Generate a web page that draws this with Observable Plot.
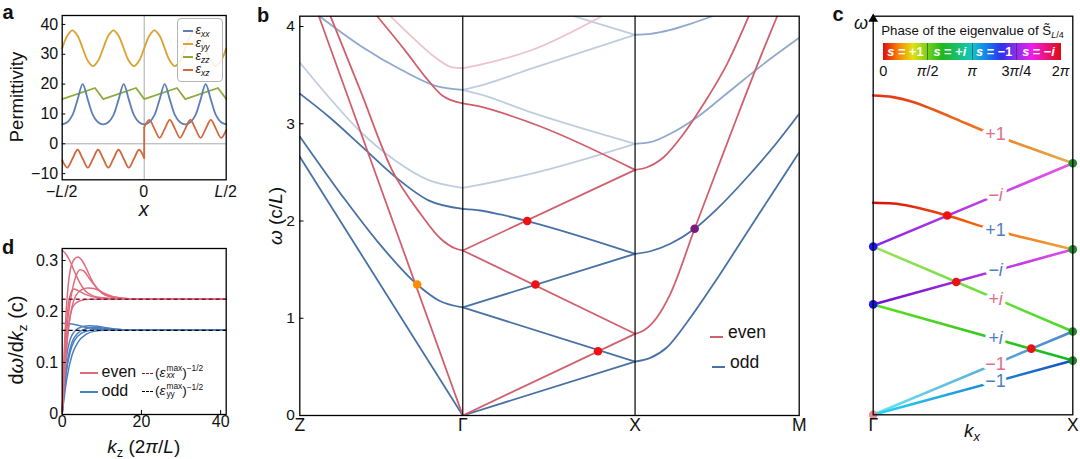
<!DOCTYPE html>
<html>
<head>
<meta charset="utf-8">
<script src="https://cdn.jsdelivr.net/npm/d3@7"></script>
<script src="https://cdn.jsdelivr.net/npm/@observablehq/plot@0.6"></script>
<style>
html,body{margin:0;padding:0;background:#fff;}
#wrap{position:relative;width:1080px;height:459px;overflow:hidden;background:#fff;font-family:"Liberation Sans",Arial,Helvetica,sans-serif;color:#111;}
.t{position:absolute;white-space:nowrap;line-height:1;}
.t sub{font-size:68%;vertical-align:baseline;position:relative;top:0.32em;line-height:0;}
.t sup{font-size:62%;vertical-align:baseline;position:relative;top:-0.6em;line-height:0;}
.ss{display:inline-flex;flex-direction:column;font-size:62%;line-height:0.95;vertical-align:middle;margin-left:1px;}
</style>
</head>
<body>
<div id="wrap"></div>
<script>
const FONT = '"Liberation Sans", Arial, Helvetica, sans-serif';

// ---------------- Panel a data ----------------
const aX = [-0.5,-0.46875,-0.4375,-0.40625,-0.375,-0.34375,-0.3125,-0.28125,-0.25,-0.21875,-0.1875,-0.15625,-0.125,-0.09375,-0.0625,-0.03125,0,0.03125,0.0625,0.09375,0.125,0.15625,0.1875,0.21875,0.25,0.28125,0.3125,0.34375,0.375,0.40625,0.4375,0.46875,0.5];
const epsXX = [6.5,7.2,9.6,14.8,20,14.8,9.6,7.2, 6.5,7.2,9.6,14.8,20,14.8,9.6,7.2, 6.5,7.2,9.6,14.8,20,14.8,9.6,7.2, 6.5,7.2,9.6,14.8,20,14.8,9.6,7.2, 6.5];
const epsYY = [32,36.2,38,36.2,32,27.8,26,27.8, 32,36.2,38,36.2,32,27.8,26,27.8, 32,36.2,38,36.2,32,27.8,26,27.8, 32,36.2,38,36.2,32,27.8,26,27.8, 32];
const zzX = [-0.5,-0.3,-0.25,-0.05,0,0.2,0.25,0.45,0.5];
const epsZZ = [15,18.7,15,18.7,15,18.7,15,18.7,15];
const xzNegX = [-0.5,-0.46875,-0.4375,-0.40625,-0.375,-0.34375,-0.3125,-0.28125,-0.25,-0.21875,-0.1875,-0.15625,-0.125,-0.09375,-0.0625,-0.03125,0];
const epsXZneg = [-5.5,-8,-5,-2,-5,-8,-5,-2,-5,-8,-5,-2,-5,-8,-5,-2,-4.8];
const xzPosX = [0,0.03125,0.0625,0.09375,0.125,0.15625,0.1875,0.21875,0.25,0.28125,0.3125,0.34375,0.375,0.40625,0.4375,0.46875,0.5];
const epsXZpos = [5.5,8,5,2,5,8,5,2,5,8,5,2,5,8,5,2,4.6];
const aYTicks = [-10,0,10,20,30,40];
const aXTicks = [-0.5,0,0.5];
const aXTickLabels = ["−<i>L</i>/2","0","<i>L</i>/2"];
const aColors = {xx:"#5b7fb6", yy:"#dba230", zz:"#8bab3b", xz:"#d2683e"};

// ---------------- Panel b data (k: Z=0, Γ=1, X=2, M=3 ; ω in c/L) ----------------
const bXTicks = ["Z","Γ","X","M"];
const bNodePos = [0, 0.979, 2.014, 3];   // relative path length of Z, Γ, X, M
const bYTicks = [0,1,2,3,4];
// Z–Γ
const bOddZG1 = [[0,2.66],[1,0]];
const bOddZG2 = [[0,2.87],[0.282,2.21],[0.486,1.77],[0.720,1.347],[0.853,1.183],[1,1.111]];
const bOddZG3 = [[0,3.31],[0.180,3.07],[0.385,2.76],[0.589,2.45],[0.793,2.21],[1,2.125]];
const bFaintZG = [[0,3.63],[0.180,3.27],[0.383,2.90],[0.587,2.62],[0.791,2.42],[1,2.341]];
const bMidZG = [[0.121,4.106],[0.383,3.79],[0.628,3.55],[0.833,3.39],[1,3.349]];
const rConeZG = [[0.117,4.106],[1,0]];
const rEvenZG1 = [[0.188,4.106],[0.372,3.34],[0.567,2.52],[0.747,2.06],[0.863,1.82],[0.955,1.717],[1,1.697]];
const rEvenZG2 = [[0.475,4.106],[0.648,3.75],[0.771,3.48],[0.874,3.29],[1,3.21]];
const rPinkZG = [[0.556,4.106],[0.690,3.89],[0.833,3.68],[0.935,3.58],[1,3.571]];
// Γ–X
const bOddGX0 = [[1,0],[2,0.555]];
const bOddGX1a = [[1,1.111],[2,0.555]];
const bOddGX1b = [[1,1.111],[2,1.663]];
const bOddGX2 = [[1,2.125],[1.103,2.108],[1.219,2.067],[1.374,2.0],[2,1.663]];
const bFaintGX1 = [[1,2.341],[1.103,2.375],[1.393,2.485],[2,2.794]];
const bFaintGX2 = [[1,3.349],[1.103,3.301],[1.393,3.119],[2,2.794]];
const bFaintGX3 = [[1,3.349],[1.103,3.393],[1.393,3.565],[2,3.915]];
const bFaintGX4 = [[1.644,4.106],[2,3.915]];
const rConeGX = [[1,0],[2,0.84]];
const rEvenGX1a = [[1,1.697],[2,0.84]];
const rEvenGX1b = [[1,1.697],[2,2.526]];
const rEvenGX2 = [[1,3.21],[1.103,3.177],[1.219,3.116],[1.451,2.972],[2,2.526]];
const rPinkGX = [[1,3.571],[1.103,3.609],[1.393,3.753],[1.807,4.106]];
// X–M
const bOddXM1 = [[2,0.555],[2.093,0.593],[2.195,0.702],[2.317,0.959],[2.479,1.354],[2.683,1.884],[2.886,2.412],[3,2.707]];
const bOddXM2 = [[2,1.663],[2.093,1.689],[2.215,1.766],[2.363,1.920],[2.5,2.125],[2.683,2.450],[2.866,2.81],[3,3.102]];
const rEvenXM1 = [[2,0.84],[2.052,0.874],[2.134,1.011],[2.215,1.251],[2.363,1.920],[2.5,2.53],[2.622,3.07],[2.784,3.77],[2.866,4.106]];
const rEvenXM2 = [[2,2.526],[2.073,2.553],[2.174,2.656],[2.296,2.897],[2.418,3.205],[2.561,3.616],[2.693,4.106]];
const bMidXM1 = [[2,2.794],[2.093,2.810],[2.215,2.897],[2.378,3.067],[2.581,3.342],[2.784,3.616],[3,3.884]];
const bMidXM2 = [[2,3.915],[2.093,3.925],[2.215,3.966],[2.337,4.028],[2.470,4.106]];
const bDotsOrange = [[0.720,1.347]];
const bDotsRed = [[1.374,2.0],[1.422,1.347],[1.785,0.661]];
const bDotsPurple = [[2.363,1.92]];

// ---------------- Panel c data (kx: Γ=0, X=1 ; ω arbitrary 0–100) ----------------
const c1 = [[0,80.1],[0.1,79.7],[0.2,78.5],[0.3,76.6],[0.4,74.5],[0.6,70.3],[0.8,66.7],[1,63.1]];
const c2 = [[0,42.2],[1,63.1]];
const c3 = [[0,53.2],[0.1,53.0],[0.2,52.2],[0.371,50.0],[0.6,46.4],[0.8,43.9],[1,41.5]];
const c4 = [[0,42.2],[1,20.9]];
const c5 = [[0,27.7],[1,41.5]];
const c6 = [[0,27.7],[1,13.6]];
const c7 = [[0,0],[1,20.9]];
const c8 = [[0,0],[1,13.6]];
const cBlueDots = [[0,42.2],[0,27.7]];
const cPinkDots = [[0,0]];
const cGreenDots = [[1,63.1],[1,41.5],[1,20.9],[1,13.6]];
const cRedDots = [[0.371,50.0],[0.416,33.3],[0.792,16.6]];
const cLabels = [
  {k:0.613, v:70.3, t:"+1", even:true, it:false},
  {k:0.613, v:55.0, t:"−i", even:true, it:true},
  {k:0.613, v:46.2, t:"+1", even:false, it:false},
  {k:0.613, v:36.2, t:"−i", even:false, it:true},
  {k:0.613, v:29.1, t:"+i", even:true, it:true},
  {k:0.613, v:19.1, t:"+i", even:false, it:true},
  {k:0.613, v:12.8, t:"−1", even:true, it:false},
  {k:0.613, v:8.3, t:"−1", even:false, it:false}
];
const cGradients = [
  [[0,"hsl(8,85%,48%)"],[0.5,"hsl(24,85%,52%)"],[1,"hsl(38,75%,60%)"]],
  [[0,"hsl(272,80%,52%)"],[1,"hsl(300,75%,62%)"]],
  [[0,"hsl(0,90%,45%)"],[0.5,"hsl(22,90%,50%)"],[1,"hsl(36,85%,58%)"]],
  [[0,"hsl(92,70%,62%)"],[1,"hsl(108,70%,50%)"]],
  [[0,"hsl(268,85%,45%)"],[1,"hsl(298,75%,60%)"]],
  [[0,"hsl(100,75%,50%)"],[1,"hsl(125,80%,40%)"]],
  [[0,"hsl(185,80%,68%)"],[1,"hsl(213,55%,55%)"]],
  [[0,"hsl(188,90%,55%)"],[1,"hsl(220,80%,42%)"]]
];
const phaseTicks = ["0","<i>π</i>/2","<i>π</i>","3<i>π</i>/4","2<i>π</i>"];
const phaseNames = ["<i>s</i> = +1","<i>s</i> = +<i>i</i>","<i>s</i> = −1","<i>s</i> = −<i>i</i>"];

// ---------------- Panel d data ----------------
const dEven1 = [[0,0.320],[1,0.312],[2,0.298],[3,0.280],[4,0.263],[5,0.249],[6,0.239],[8,0.230],[10,0.227],[14,0.225],[20,0.224],[41.4,0.224]];
const dEven2 = [[0,0],[0.5,0.12],[1,0.2],[1.5,0.25],[2,0.28],[3,0.302],[4,0.307],[5,0.300],[6,0.286],[7,0.269],[8,0.254],[10,0.236],[12,0.229],[16,0.225],[20,0.224],[41.4,0.224]];
const dEven3 = [[0,0],[0.7,0.11],[1.5,0.19],[2.5,0.24],[3.5,0.27],[4.5,0.282],[5.5,0.279],[7,0.263],[9,0.244],[11,0.233],[14,0.227],[20,0.224],[41.4,0.224]];
const dEven4 = [[0,0],[0.8,0.10],[1.6,0.17],[2.5,0.21],[3.5,0.232],[5,0.243],[6.5,0.246],[8,0.245],[10,0.238],[13,0.229],[17,0.225],[24,0.224],[41.4,0.224]];
const dEven5 = [[0,0],[0.5,0.1],[1,0.17],[1.5,0.21],[2.2,0.236],[3,0.244],[4,0.241],[6,0.233],[9,0.227],[14,0.225],[41.4,0.224]];
const dEven6 = [[0,0],[1,0.12],[2,0.19],[3,0.213],[4.5,0.221],[7,0.224],[41.4,0.224]];
const dOdd1 = [[0,0.177],[2,0.176],[4,0.173],[6,0.169],[9,0.166],[12,0.164],[16,0.163],[41.4,0.163]];
const dOdd2 = [[0,0],[0.5,0.06],[1,0.105],[2,0.145],[3,0.160],[5,0.170],[7,0.172],[9,0.171],[12,0.167],[16,0.164],[41.4,0.163]];
const dOdd3 = [[0,0],[0.7,0.06],[1.5,0.11],[2.5,0.14],[4,0.158],[6,0.166],[8,0.169],[11,0.167],[15,0.164],[20,0.163],[41.4,0.163]];
const dOdd4 = [[0,0],[1,0.08],[2,0.12],[3,0.142],[5,0.158],[7,0.163],[10,0.165],[14,0.164],[41.4,0.163]];
const dOdd5 = [[0,0],[1.2,0.07],[2.5,0.115],[4,0.14],[6,0.155],[8,0.161],[11,0.163],[41.4,0.163]];
const dEvenLimit = 0.224, dOddLimit = 0.163;
const dYTicks = [0,0.1,0.2,0.3];
const dXTicks = [0,20,40];

// ---------------- helpers ----------------
const wrap = document.getElementById("wrap");
const rows = (xs, vs) => xs.map((x, i) => ({x, v: vs[i]}));
const pts = (arr, id, s) => arr.map(([x, v]) => ({x, v, id, s}));
const minus = d => (d < 0 ? "−" + Math.abs(d) : String(d));
function put(svg, left, top) {
  svg.style.position = "absolute"; svg.style.left = left + "px"; svg.style.top = top + "px";
  svg.style.maxWidth = "none"; svg.style.background = "transparent";
  wrap.appendChild(svg);
}
function T(html, x, y, o = {}) {
  const d = document.createElement("div");
  d.className = "t"; d.innerHTML = html;
  d.style.left = x + "px"; d.style.top = y + "px";
  d.style.fontSize = (o.size || 16) + "px";
  if (o.weight) d.style.fontWeight = o.weight;
  if (o.color) d.style.color = o.color;
  if (o.italic) d.style.fontStyle = "italic";
  const tx = o.anchor === "start" ? "0%" : o.anchor === "end" ? "-100%" : "-50%";
  d.style.transform = `translate(${tx},-50%)` + (o.rotate ? ` rotate(${o.rotate}deg)` : "");
  wrap.appendChild(d); return d;
}
function seg(x1, x2, y, color, w = 2, dashed = false) {
  const d = document.createElement("div");
  d.style.position = "absolute"; d.style.left = x1 + "px"; d.style.width = (x2 - x1) + "px";
  d.style.top = (y - w / 2) + "px";
  if (dashed) { d.style.borderTop = `${w}px dashed ${color}`; d.style.height = "0"; }
  else { d.style.height = w + "px"; d.style.background = color; }
  wrap.appendChild(d);
}

// ---------------- Panel a ----------------
const plotA = Plot.plot({
  width: 240, height: 200, marginLeft: 61.7, marginRight: 14.3, marginTop: 15, marginBottom: 20.7,
  x: {domain: [-0.5, 0.5], axis: null}, y: {domain: [-12.07, 43.0], axis: null},
  style: {fontFamily: FONT, background: "transparent"},
  marks: [
    Plot.ruleY([0], {stroke: "#a0a0a0", strokeWidth: 0.9}),
    Plot.ruleX([0], {stroke: "#a0a0a0", strokeWidth: 0.9}),
    Plot.line(rows(zzX, epsZZ), {x: "x", y: "v", stroke: aColors.zz, strokeWidth: 1.8}),
    Plot.line(rows(aX, epsYY), {x: "x", y: "v", stroke: aColors.yy, strokeWidth: 1.8, curve: "catmull-rom"}),
    Plot.line(rows(aX, epsXX), {x: "x", y: "v", stroke: aColors.xx, strokeWidth: 1.8, curve: "catmull-rom"}),
    Plot.line(rows(xzNegX, epsXZneg), {x: "x", y: "v", stroke: aColors.xz, strokeWidth: 1.8, curve: "catmull-rom"}),
    Plot.line(rows(xzPosX, epsXZpos), {x: "x", y: "v", stroke: aColors.xz, strokeWidth: 1.8, curve: "catmull-rom"}),
    Plot.link([{x1: xzNegX[xzNegX.length - 1], y1: epsXZneg[epsXZneg.length - 1], x2: xzPosX[0], y2: epsXZpos[0]}],
      {x1: "x1", y1: "y1", x2: "x2", y2: "y2", stroke: aColors.xz, strokeWidth: 1.8}),
    Plot.ruleY(aYTicks, {y: d => d, x1: -0.5, x2: -0.478, stroke: "#000", strokeWidth: 1}),
    Plot.text(aYTicks, {y: d => d, frameAnchor: "left", dx: -4, textAnchor: "end", text: minus, fontSize: 16}),
    Plot.frame({stroke: "#000", strokeWidth: 1.3})
  ]
});
put(plotA, 0, 0);

// ---------------- Panel b ----------------
const kPath = d3.scaleLinear().domain([0, 1, 2, 3]).range(bNodePos);
const bandsB = [
  ["oZG1", bOddZG1, "odd"], ["oZG2", bOddZG2, "odd"], ["oZG3", bOddZG3, "odd"],
  ["fZG", bFaintZG, "oddFaint"], ["mZG", bMidZG, "oddMid"],
  ["rcZG", rConeZG, "even"], ["r1ZG", rEvenZG1, "even"], ["r2ZG", rEvenZG2, "even"], ["pZG", rPinkZG, "evenFaint"],
  ["oGX0", bOddGX0, "odd"], ["oGX1a", bOddGX1a, "odd"], ["oGX1b", bOddGX1b, "odd"], ["oGX2", bOddGX2, "odd"],
  ["fGX1", bFaintGX1, "oddFaint"], ["fGX2", bFaintGX2, "oddFaint"], ["fGX3", bFaintGX3, "oddFaint"], ["fGX4", bFaintGX4, "oddFaint"],
  ["rcGX", rConeGX, "even"], ["r1aGX", rEvenGX1a, "even"], ["r1bGX", rEvenGX1b, "even"], ["r2GX", rEvenGX2, "even"], ["pGX", rPinkGX, "evenFaint"],
  ["oXM1", bOddXM1, "odd"], ["oXM2", bOddXM2, "odd"], ["r1XM", rEvenXM1, "even"], ["r2XM", rEvenXM2, "even"],
  ["mXM1", bMidXM1, "oddMid"], ["mXM2", bMidXM2, "oddMid"]
];
const tableB = bandsB.flatMap(([id, arr, s]) => pts(arr, id, s));
const styleB = {oddFaint: "#bfcde1", evenFaint: "#eec2ca", oddMid: "#8fa9cd", odd: "#4871a6", even: "#d0606d"};
const bx = d => kPath(d.x);
const plotB = Plot.plot({
  width: 580, height: 459, marginLeft: 59.3, marginRight: 21.3, marginTop: 15.7, marginBottom: 44,
  x: {domain: [0, 3], axis: null},
  y: {domain: [0, 4.106], axis: null},
  style: {fontFamily: FONT, background: "transparent"},
  marks: [
    ...["oddFaint", "evenFaint", "oddMid", "odd", "even"].map(s =>
      Plot.line(tableB.filter(r => r.s === s), {x: bx, y: "v", z: "id", stroke: styleB[s], strokeWidth: 1.8, curve: "monotone-x", clip: true})),
    Plot.ruleX([1, 2], {x: d => kPath(d), stroke: "#000", strokeWidth: 1.2}),
    Plot.dot(bDotsOrange, {x: d => kPath(d[0]), y: d => d[1], r: 4.3, fill: "#ff8c00"}),
    Plot.dot(bDotsRed, {x: d => kPath(d[0]), y: d => d[1], r: 4.3, fill: "#ee1111"}),
    Plot.dot(bDotsPurple, {x: d => kPath(d[0]), y: d => d[1], r: 4.3, fill: "#7a1a7a"}),
    Plot.ruleY(bYTicks.slice(1), {y: d => d, x1: 0, x2: 0.025, stroke: "#000"}),
    Plot.text(bYTicks, {y: d => d, frameAnchor: "left", dx: -5, textAnchor: "end", text: d => String(d), fontSize: 15.5}),
    Plot.text(bXTicks, {x: (d, i) => kPath(i), frameAnchor: "bottom", dy: 15, text: d => d, fontSize: 17.5}),
    Plot.frame({stroke: "#000", strokeWidth: 1.3})
  ]
});
put(plotB, 240, 0);

// ---------------- Panel c ----------------
const cBands = [c1, c2, c3, c4, c5, c6, c7, c8];
const cPlace = ["#010101", "#020202", "#030303", "#040404", "#050505", "#060606", "#070707", "#080808"];
const evenLbl = "#e0708a", oddLbl = "#4f7fbf";
const plotC = Plot.plot({
  width: 260, height: 459, marginLeft: 52.7, marginRight: 7.7, marginTop: 15.7, marginBottom: 44.7,
  x: {domain: [0, 1], axis: null}, y: {domain: [0, 100], axis: null},
  style: {fontFamily: FONT, background: "transparent"},
  marks: [
    ...cBands.map((b, i) => Plot.line(pts(b, "c" + i, ""), {x: "x", y: "v", stroke: cPlace[i], strokeWidth: 2.6, curve: "monotone-x"})),
    Plot.text(cLabels.filter(d => d.even && !d.it), {x: "k", y: "v", text: "t", fill: evenLbl, stroke: "white", strokeWidth: 8, fontSize: 18}),
    Plot.text(cLabels.filter(d => d.even && d.it), {x: "k", y: "v", text: "t", fill: evenLbl, stroke: "white", strokeWidth: 8, fontSize: 18, fontStyle: "italic"}),
    Plot.text(cLabels.filter(d => !d.even && !d.it), {x: "k", y: "v", text: "t", fill: oddLbl, stroke: "white", strokeWidth: 8, fontSize: 18}),
    Plot.text(cLabels.filter(d => !d.even && d.it), {x: "k", y: "v", text: "t", fill: oddLbl, stroke: "white", strokeWidth: 8, fontSize: 18, fontStyle: "italic"}),
    Plot.dot(cBlueDots, {x: d => d[0], y: d => d[1], r: 4.3, fill: "#1717e6"}),
    Plot.dot(cPinkDots, {x: d => d[0], y: d => d[1], r: 4.3, fill: "#eb8c8c"}),
    Plot.dot(cGreenDots, {x: d => d[0], y: d => d[1], r: 4.3, fill: "#1f8a2a"}),
    Plot.dot(cRedDots, {x: d => d[0], y: d => d[1], r: 4.3, fill: "#ee1111"}),
    Plot.text(["Γ", "X"], {x: (d, i) => i, frameAnchor: "bottom", dy: 16, text: d => d, fontSize: 17.5}),
    Plot.frame({stroke: "#000", strokeWidth: 1.3}),
    Plot.dot([[0, 99.3]], {x: d => d[0], y: d => d[1], symbol: "triangle", r: 3.6, fill: "#000", stroke: "none"})
  ]
});
{
  const ns = "http://www.w3.org/2000/svg";
  const defs = document.createElementNS(ns, "defs");
  cGradients.forEach((stops, i) => {
    const g = document.createElementNS(ns, "linearGradient");
    g.setAttribute("id", "gc" + i);
    g.setAttribute("x1", "0"); g.setAttribute("x2", "1"); g.setAttribute("y1", "0"); g.setAttribute("y2", "0");
    for (const [o, c] of stops) {
      const s = document.createElementNS(ns, "stop");
      s.setAttribute("offset", o); s.setAttribute("stop-color", c); g.appendChild(s);
    }
    defs.appendChild(g);
  });
  plotC.insertBefore(defs, plotC.firstChild);
  plotC.querySelectorAll("[stroke]").forEach(el => {
    const i = cPlace.indexOf(el.getAttribute("stroke").toLowerCase());
    if (i >= 0) el.setAttribute("stroke", `url(#gc${i})`);
  });
}
put(plotC, 820, 0);

// ---------------- Panel d ----------------
const dBands = [
  ["e1", dEven1, "even"], ["e2", dEven2, "even"], ["e3", dEven3, "even"], ["e4", dEven4, "even"], ["e5", dEven5, "even"], ["e6", dEven6, "even"],
  ["o1", dOdd1, "odd"], ["o2", dOdd2, "odd"], ["o3", dOdd3, "odd"], ["o4", dOdd4, "odd"], ["o5", dOdd5, "odd"]
];
const tableD = dBands.flatMap(([id, arr, s]) => pts(arr, id, s));
const plotD = Plot.plot({
  width: 240, height: 229, marginLeft: 61.7, marginRight: 14.3, marginTop: 18, marginBottom: 45,
  x: {domain: [0, 41.4], axis: null}, y: {domain: [-0.002, 0.3235], axis: null},
  style: {fontFamily: FONT, background: "transparent"},
  marks: [
    Plot.line(tableD.filter(r => r.s === "odd"), {x: "x", y: "v", z: "id", stroke: "#4a7fc1", strokeWidth: 1.5, curve: "monotone-x"}),
    Plot.line(tableD.filter(r => r.s === "even"), {x: "x", y: "v", z: "id", stroke: "#e06b7d", strokeWidth: 1.5, curve: "monotone-x"}),
    Plot.ruleY([dEvenLimit], {stroke: "#7a1d3e", strokeWidth: 1.4, strokeDasharray: "4,3"}),
    Plot.ruleY([dOddLimit], {stroke: "#000", strokeWidth: 1.4, strokeDasharray: "4,3"}),
    Plot.ruleY(dYTicks.slice(1), {y: d => d, x1: 0, x2: 1, stroke: "#000"}),
    Plot.ruleX(dXTicks.slice(1), {x: d => d, y1: -0.002, y2: 0.006, stroke: "#000"}),
    Plot.text(dYTicks, {y: d => d, frameAnchor: "left", dx: -4, textAnchor: "end", text: d => String(d), fontSize: 16}),
    Plot.text(dXTicks, {x: d => d, frameAnchor: "bottom", dy: 12, text: d => String(d), fontSize: 16}),
    Plot.frame({stroke: "#000", strokeWidth: 1.3})
  ]
});
put(plotD, 0, 230);

// ---------------- Text overlays ----------------
T("a", 8, 12, {size: 20, weight: "bold"});
T("b", 263, 15, {size: 20, weight: "bold"});
T("c", 838, 14, {size: 20, weight: "bold"});
T("d", 8, 247, {size: 20, weight: "bold"});

// panel a
T("Permittivity", 17, 97, {size: 18.5, rotate: -90});
aXTicks.forEach((_, i) => T(aXTickLabels[i], [61.7, 143.7, 225.7][i], 192, {size: 16}));
T("<i>x</i>", 143.7, 209, {size: 20});
{
  const box = document.createElement("div");
  Object.assign(box.style, {position: "absolute", left: "176.7px", top: "18.3px", width: "46px", height: "63.4px",
    border: "1px solid #b5b5b5", borderRadius: "4px", background: "rgba(255,255,255,0.86)", boxSizing: "border-box"});
  wrap.appendChild(box);
  const ent = [["xx", aColors.xx], ["yy", aColors.yy], ["zz", aColors.zz], ["xz", aColors.xz]];
  const ys = [31, 44, 57, 70];
  ent.forEach(([s, c], i) => {
    seg(183, 193, ys[i], c, 2);
    T(`<i>ε</i><sub><i>${s}</i></sub>`, 195.5, ys[i] - 1, {size: 12.5, anchor: "start"});
  });
}

// panel b
T("<i>ω</i> (c/<i>L</i>)", 275, 216, {size: 19, rotate: -90});
seg(710, 723, 336.7, "#d0606d", 2);
T("even", 728, 333, {size: 17.5, anchor: "start"});
seg(711.7, 725, 366.7, "#4871a6", 2);
T("odd", 730, 363, {size: 17.5, anchor: "start"});

// panel c
T("<i>ω</i>", 861, 23, {size: 18});
T("Phase of the eigenvalue of S̃<sub><i>L</i>/4</sub>", 972.5, 31, {size: 13.3});
{
  const bar = document.createElement("div");
  Object.assign(bar.style, {position: "absolute", left: "883.3px", top: "42.7px", width: "177.4px", height: "17.3px",
    background: "linear-gradient(to right, hsl(0,88%,46%), hsl(30,95%,50%), hsl(60,88%,47%), hsl(90,78%,46%), hsl(120,72%,42%), hsl(150,78%,42%), hsl(180,85%,42%), hsl(210,85%,50%), hsl(240,85%,56%), hsl(270,85%,56%), hsl(300,85%,52%), hsl(330,85%,50%), hsl(360,88%,46%))"});
  wrap.appendChild(bar);
  [0.25, 0.5, 0.75].forEach(f => {
    const l = document.createElement("div");
    Object.assign(l.style, {position: "absolute", left: (883.3 + 177.4 * f - 0.5) + "px", top: "42.7px", width: "1px", height: "17.3px", background: "rgba(40,40,40,0.55)"});
    wrap.appendChild(l);
  });
  phaseNames.forEach((n, i) => T(n, 883.3 + 177.4 * (i + 0.5) / 4, 51.5, {size: 12.8, weight: "bold", color: "#fff"}));
  phaseTicks.forEach((n, i) => T(n, 883.3 + 177.4 * i / 4, 71, {size: 14.5}));
}
T("<i>k</i><sub><i>x</i></sub>", 972, 430, {size: 19});

// panel d
T("d<i>ω</i>/d<i>k</i><sub>z</sub> (c)", 16, 340, {size: 20, rotate: -90});
T("<i>k</i><sub>z</sub> (2<i>π</i>/<i>L</i>)", 143.7, 446, {size: 19});
seg(80, 98, 373.3, "#e06b7d", 2);
T("even", 101.5, 372, {size: 16, anchor: "start"});
seg(80, 98, 391.7, "#4a7fc1", 2);
T("odd", 101.5, 390.5, {size: 16, anchor: "start"});
seg(141.5, 152.5, 373.3, "#7a1d3e", 1.5, true);
seg(141.5, 152.5, 391.7, "#000", 1.5, true);
T("(<i>ε</i><span class='ss'><span>max</span><span><i>xx</i></span></span>)<sup>−1/2</sup>", 155, 372.5, {size: 13.5, anchor: "start"});
T("(<i>ε</i><span class='ss'><span>max</span><span>yy</span></span>)<sup>−1/2</sup>", 155, 391, {size: 13.5, anchor: "start"});
</script>
</body>
</html>
